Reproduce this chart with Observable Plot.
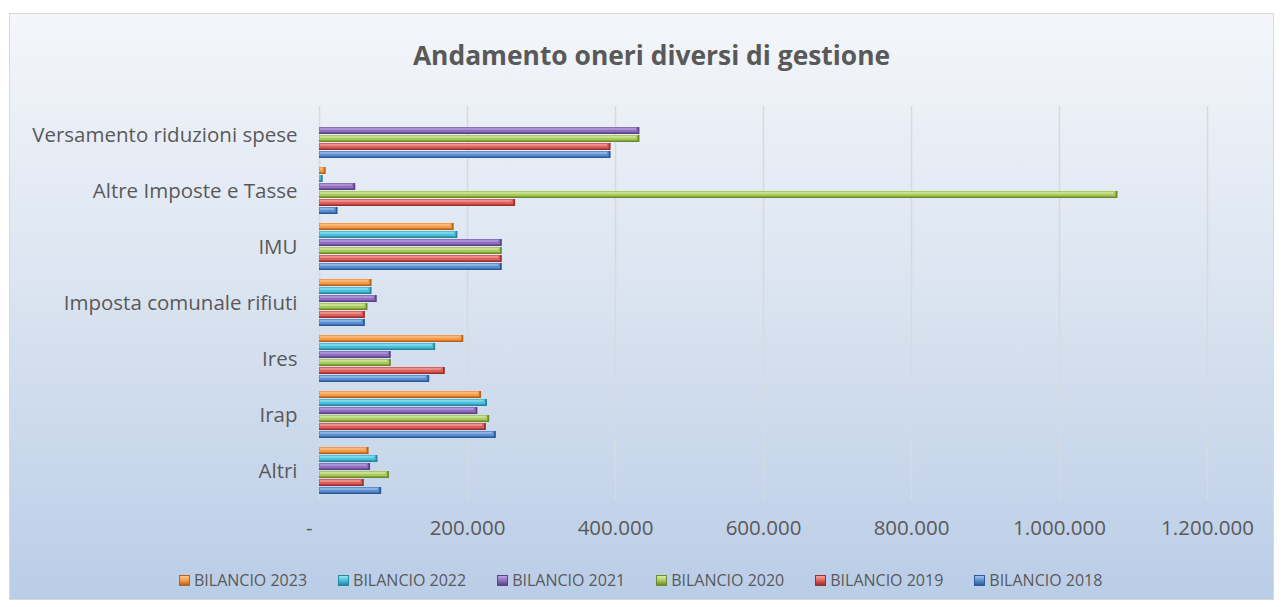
<!DOCTYPE html>
<html>
<head>
<meta charset="utf-8">
<script src="https://cdn.jsdelivr.net/npm/d3@7"></script>
<script src="https://cdn.jsdelivr.net/npm/@observablehq/plot@0.6"></script>
<style>
  html, body { margin: 0; padding: 0; background: #ffffff; }
  #frame {
    position: absolute; left: 9px; top: 13px; width: 1265px; height: 587px;
    box-sizing: border-box; border: 1px solid #d9d9d9;
    background: linear-gradient(to bottom, #f4f6fa 0%, #dce5f1 45%, #bacde7 100%);
    font-family: "Open Sans", sans-serif; overflow: hidden;
  }
  #title {
    position: absolute; left: 20px; right: 0; top: 23px; text-align: center;
    font-size: 26.4px; font-weight: bold; color: #595959; line-height: 36px;
  }
  #chart { position: absolute; left: 0; top: 82px; }
  #legend {
    position: absolute; left: 169px; top: 555px; display: flex; gap: 31px;
    font-size: 16px; line-height: 22px; color: #595959; align-items: center;
  }
  #legend .item { display: flex; align-items: center; gap: 4px; }
  #legend .sw { width: 11px; height: 11px; display: inline-block; box-sizing: border-box; }
</style>
</head>
<body>
<div id="frame">
  <div id="title">Andamento oneri diversi di gestione</div>
  <div id="chart"></div>
  <div id="legend"></div>
</div>
<script>
const categories = ["Versamento riduzioni spese", "Altre Imposte e Tasse", "IMU", "Imposta comunale rifiuti", "Ires", "Irap", "Altri"];
const series = ["BILANCIO 2023", "BILANCIO 2022", "BILANCIO 2021", "BILANCIO 2020", "BILANCIO 2019", "BILANCIO 2018"];
const v2023 = [0, 9000, 182000, 71000, 195000, 219000, 67000];
const v2022 = [0, 5000, 187000, 71000, 157000, 227000, 79000];
const v2021 = [433000, 49000, 247000, 78000, 97000, 214000, 69000];
const v2020 = [433000, 1079000, 247000, 65500, 97000, 230000, 94500];
const v2019 = [394000, 265000, 247000, 62000, 170000, 225500, 60500];
const v2018 = [394000, 25000, 247000, 62000, 149000, 239000, 84000];
const xTicks = [0, 200000, 400000, 600000, 800000, 1000000, 1200000];

const mainColors = ["#f79a46", "#4cbfd8", "#8e6fbf", "#a9c95e", "#dd5f5a", "#5a8ecf"];
const lightColors = ["#fcc58e", "#93e3f3", "#bba2e0", "#d6eda0", "#f5a5a0", "#a2c3ee"];
const darkColors = ["#b5621c", "#24869f", "#5b4286", "#6c8a2e", "#9a302d", "#2d5a96"];

const allValues = [v2023, v2022, v2021, v2020, v2019, v2018];
const data = [];
series.forEach((s, si) => {
  categories.forEach((c, ci) => {
    const v = allValues[si][ci];
    if (v > 0) data.push({cat: c, series: s, value: v, si});
  });
});

const itLocale = d3.formatLocale({decimal: ",", thousands: ".", grouping: [3], currency: ["", " €"]});
const fmt = itLocale.format(",d");
const tickFormat = d => d === 0 ? "-\u2002\u2002" : fmt(d);

const chart = Plot.plot({
  width: 1263,
  height: 450,
  marginLeft: 309,
  marginRight: 66,
  marginTop: 11,
  marginBottom: 47,
  style: {background: "transparent", fontFamily: "Open Sans", fontSize: "20.5px", color: "#595959", overflow: "visible"},
  x: {domain: [0, 1200000], ticks: xTicks, tickFormat, tickSize: 0, tickPadding: 24, label: null},
  y: {domain: series, axis: null, padding: 0.08},
  fy: {domain: categories, padding: 0.1, label: null, tickSize: 0, tickPadding: 22, axis: "left"},
  marks: [
    Plot.ruleX(xTicks, {x: d => d, stroke: "#d9d9d9", strokeWidth: 1.5, insetTop: -4, insetBottom: -4}),
    Plot.barX(data, {x: "value", y: "series", fy: "cat", fill: d => darkColors[d.si], ariaLabel: "bar-base"}),
    Plot.barX(data, {x: "value", y: "series", fy: "cat", fill: d => mainColors[d.si], insetBottom: 1.6, insetRight: 1.8}),
    Plot.barX(data, {x: "value", y: "series", fy: "cat", fill: d => lightColors[d.si], insetTop: 1.3, insetBottom: 4.4, insetLeft: 1, insetRight: 3.5})
  ]
});
chart.querySelectorAll('g[aria-label="bar-base"]').forEach(g => {
  g.style.filter = "drop-shadow(1px 2px 1.5px rgba(0,0,0,0.35))";
});
document.getElementById("chart").appendChild(chart);

const legend = document.getElementById("legend");
series.forEach((s, i) => {
  const item = document.createElement("div");
  item.className = "item";
  const sw = document.createElement("span");
  sw.className = "sw";
  sw.style.background = `linear-gradient(to bottom, ${lightColors[i]}, ${mainColors[i]} 50%, ${darkColors[i]})`;
  sw.style.border = `1px solid ${darkColors[i]}`;
  const tx = document.createElement("span");
  tx.textContent = s;
  item.appendChild(sw);
  item.appendChild(tx);
  legend.appendChild(item);
});
</script>
</body>
</html>
